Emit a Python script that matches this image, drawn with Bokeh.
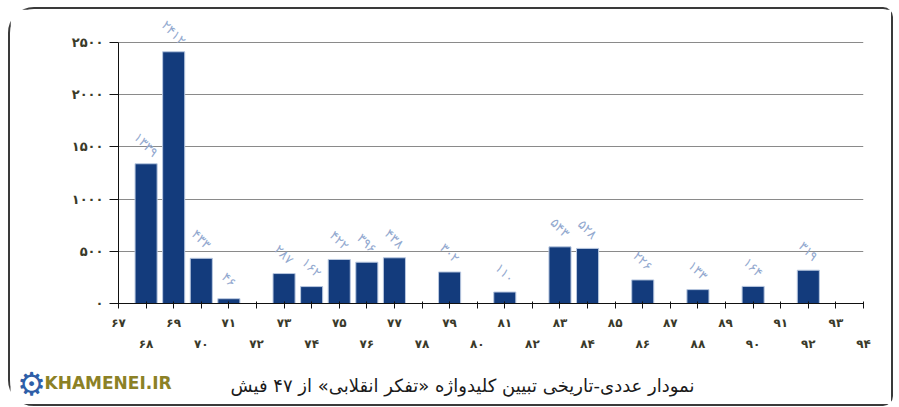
from bokeh.plotting import figure
from bokeh.layouts import column
from bokeh.models import Range1d, FixedTicker, LinearAxis, ColumnDataSource, LabelSet
from bokeh.core.properties import value
from bokeh.embed import file_html
from bokeh.resources import INLINE

# ---- data ----
years = list(range(67, 95))
counts = [0, 1339, 2412, 433, 46, 0, 287, 162, 422, 396, 438, 0, 302, 0,
          110, 0, 543, 528, 0, 226, 0, 133, 0, 164, 0, 319, 0, 0]
y_ticks = [0, 500, 1000, 1500, 2000, 2500]
title_text = "نمودار عددی-تاریخی تبیین کلیدواژه «تفکر انقلابی» از ۴۷ فیش"
logo_text = "KHAMENEI.IR"

FA = str.maketrans("0123456789", "۰۱۲۳۴۵۶۷۸۹")


def fa(n):
    return str(n).translate(FA)


FONT = "DejaVu Sans"
LABEL_COLOR = "#3a3a2a"

src = ColumnDataSource(dict(year=years, count=counts))
lab_years = [y for y, c in zip(years, counts) if c > 0]
lab_counts = [c for c in counts if c > 0]
lab_src = ColumnDataSource(dict(year=lab_years, count=lab_counts,
                                label=[fa(c) for c in lab_counts]))

W = 881
p = figure(width=W, height=344, x_range=Range1d(67, 94), y_range=Range1d(0, 2750),
           output_backend="svg", toolbar_location=None,
           min_border_left=108, min_border_right=28, min_border_top=7,
           min_border_bottom=45)
p.frame_align = False
p.outline_line_color = None
p.background_fill_color = "white"
p.border_fill_color = "white"

p.vbar(x="year", top="count", width=0.8, source=src,
       fill_color="#133b7c", line_color="#b9c8e0", line_width=1)

# grid
p.xgrid.visible = False
p.ygrid.grid_line_color = "#8a8a8a"
p.ygrid.grid_line_width = 1.2
p.ygrid.ticker = FixedTicker(ticks=y_ticks)

# y axis
ya = p.yaxis[0]
ya.ticker = FixedTicker(ticks=y_ticks)
ya.bounds = (0, 2500)
ya.major_label_overrides = {t: fa(t) for t in y_ticks}
ya.major_tick_out = 9
ya.major_tick_in = 0
ya.minor_tick_line_color = None
ya.axis_line_color = "#111111"
ya.major_tick_line_color = "#111111"
ya.major_label_standoff = 6
ya.major_label_text_font = FONT
ya.major_label_text_font_size = "13px"
ya.major_label_text_font_style = "bold"
ya.major_label_text_color = LABEL_COLOR

# x axis (odd years on top row)
xa = p.xaxis[0]
xa.ticker = FixedTicker(ticks=years)
xa.major_label_overrides = {y: (fa(y) if y % 2 == 1 else "") for y in years}
xa.major_tick_out = 5
xa.major_tick_in = 2
xa.minor_tick_line_color = None
xa.axis_line_color = "#111111"
xa.major_tick_line_color = "#111111"
xa.major_label_standoff = 7
xa.major_label_text_font = FONT
xa.major_label_text_font_size = "12px"
xa.major_label_text_font_style = "bold"
xa.major_label_text_color = LABEL_COLOR

even_years = [y for y in years if y % 2 == 0]
xa2 = LinearAxis(ticker=FixedTicker(ticks=even_years),
                 major_label_overrides={y: fa(y) for y in even_years},
                 axis_line_color=None, major_tick_line_color=None,
                 minor_tick_line_color=None, major_tick_out=0, major_tick_in=0,
                 major_label_standoff=4,
                 major_label_text_font=FONT, major_label_text_font_size="12px",
                 major_label_text_font_style="bold",
                 major_label_text_color=LABEL_COLOR)
p.add_layout(xa2, "below")

# value labels
p.add_layout(LabelSet(x="year", y="count", text="label", source=lab_src,
                      y_offset=19, angle=-45, angle_units="deg",
                      text_align="center", text_baseline="middle",
                      text_color="#93a9cf", text_font=value(FONT),
                      text_font_size="13px"))

# footer: logo and caption (x in page pixels minus 10)
FH = 51
footer = figure(width=W, height=FH, x_range=Range1d(0, W), y_range=Range1d(0, FH),
                output_backend="svg", toolbar_location=None,
                x_axis_location=None, y_axis_location=None,
                min_border_left=0, min_border_right=0, min_border_top=0,
                min_border_bottom=0)
footer.frame_align = False
footer.grid.visible = False
footer.outline_line_color = None
footer.text(x=[452], y=[FH - 32], text=[title_text], text_align="center",
            text_baseline="middle", text_font=value(FONT), text_font_size="18px",
            text_color="#1a1a1a")
footer.text(x=[21], y=[FH - 30], text=["⚙"], text_align="center",
            text_baseline="middle", text_font=value(FONT), text_font_size="32px",
            text_color="#2f5fa8")
footer.text(x=[34], y=[FH - 29], text=[logo_text], text_align="left",
            text_baseline="middle", text_font=value(FONT), text_font_size="17px",
            text_font_style="bold", text_color="#8c8126")

layout = column(p, footer, spacing=0,
                styles={"border": "2px solid #3a3a3a",
                        "border-radius": "26px 10px 10px 26px",
                        "margin-left": "8px", "margin-top": "7px"})

open("out.html", "w").write(file_html(layout, INLINE))
